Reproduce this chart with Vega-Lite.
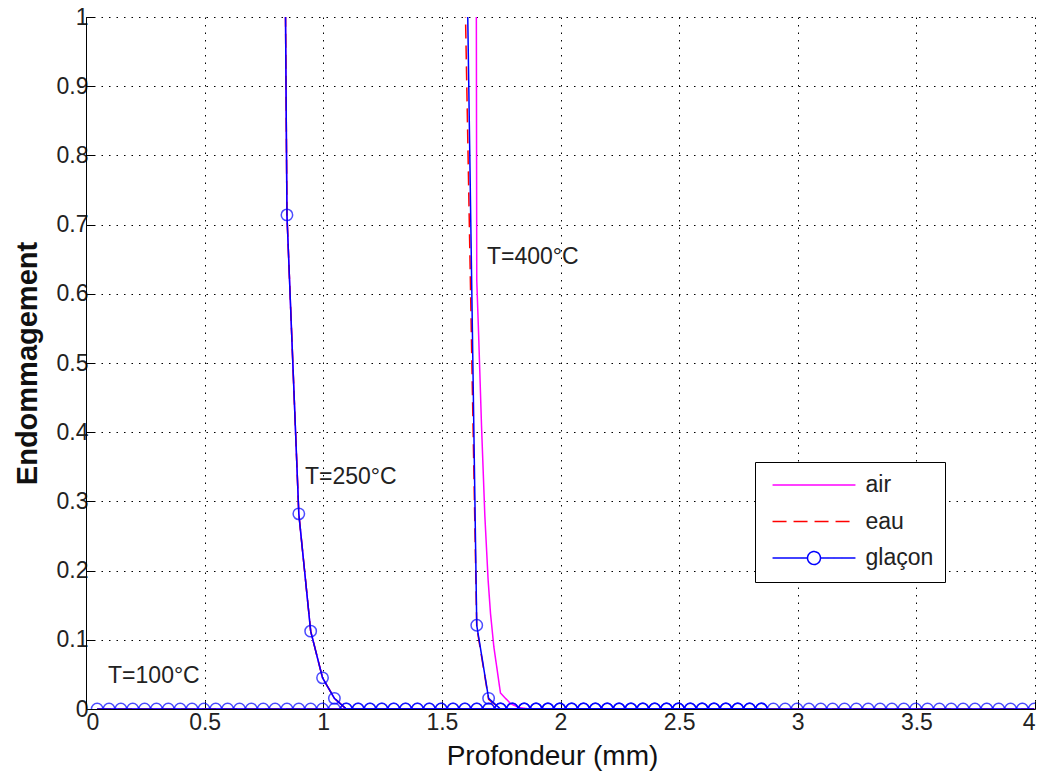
{
  "$schema": "https://vega.github.io/schema/vega-lite/v6.json",
  "autosize": {"type": "none"},
  "width": 949,
  "height": 692,
  "padding": {"left": 86, "top": 17, "right": 4, "bottom": 69},
  "background": "white",
  "config": {
    "view": {"stroke": null},
    "font": "Liberation Sans",
    "axis": {
      "domainColor": "black",
      "domainWidth": 1,
      "tickColor": "black",
      "tickSize": -8,
      "grid": true,
      "gridColor": "black",
      "gridDash": [1.5, 6],
      "gridWidth": 1,
      "labelFont": "Liberation Sans",
      "labelFontSize": 23,
      "labelColor": "#222",
      "titleFont": "Liberation Sans",
      "titleColor": "#111",
      "labelOverlap": false
    }
  },
  "datasets": {
    "curves": [
      {"serie": "air", "T": 100, "x": 0.047, "y": 0},
      {"serie": "air", "T": 100, "x": 3.997, "y": 0},
      {"serie": "air", "T": 250, "x": 0.797, "y": 3.1},
      {"serie": "air", "T": 250, "x": 0.847, "y": 0.714},
      {"serie": "air", "T": 250, "x": 0.897, "y": 0.282},
      {"serie": "air", "T": 250, "x": 0.947, "y": 0.1125},
      {"serie": "air", "T": 250, "x": 0.997, "y": 0.045},
      {"serie": "air", "T": 250, "x": 1.047, "y": 0.0154},
      {"serie": "air", "T": 250, "x": 1.097, "y": 0},
      {"serie": "air", "T": 250, "x": 2.847, "y": 0},
      {"serie": "air", "T": 400, "x": 1.644, "y": 1.3},
      {"serie": "air", "T": 400, "x": 1.647, "y": 0.62},
      {"serie": "air", "T": 400, "x": 1.655, "y": 0.54},
      {"serie": "air", "T": 400, "x": 1.667, "y": 0.41},
      {"serie": "air", "T": 400, "x": 1.681, "y": 0.28},
      {"serie": "air", "T": 400, "x": 1.695, "y": 0.186},
      {"serie": "air", "T": 400, "x": 1.705, "y": 0.138},
      {"serie": "air", "T": 400, "x": 1.719, "y": 0.09},
      {"serie": "air", "T": 400, "x": 1.747, "y": 0.023},
      {"serie": "air", "T": 400, "x": 1.789, "y": 0.008},
      {"serie": "air", "T": 400, "x": 1.824, "y": 0.002},
      {"serie": "air", "T": 400, "x": 1.87, "y": 0},
      {"serie": "air", "T": 400, "x": 2.847, "y": 0},
      {"serie": "eau", "T": 100, "x": 0.047, "y": 0},
      {"serie": "eau", "T": 100, "x": 3.997, "y": 0},
      {"serie": "eau", "T": 250, "x": 0.797, "y": 3.1},
      {"serie": "eau", "T": 250, "x": 0.847, "y": 0.714},
      {"serie": "eau", "T": 250, "x": 0.897, "y": 0.282},
      {"serie": "eau", "T": 250, "x": 0.947, "y": 0.1125},
      {"serie": "eau", "T": 250, "x": 0.997, "y": 0.045},
      {"serie": "eau", "T": 250, "x": 1.047, "y": 0.0154},
      {"serie": "eau", "T": 250, "x": 1.097, "y": 0},
      {"serie": "eau", "T": 250, "x": 2.847, "y": 0},
      {"serie": "eau", "T": 400, "x": 1.597, "y": 1.05},
      {"serie": "eau", "T": 400, "x": 1.647, "y": 0.118},
      {"serie": "eau", "T": 400, "x": 1.697, "y": 0.014},
      {"serie": "eau", "T": 400, "x": 1.747, "y": 0},
      {"serie": "eau", "T": 400, "x": 2.847, "y": 0},
      {"serie": "glaçon", "T": 100, "x": 0.047, "y": 0},
      {"serie": "glaçon", "T": 100, "x": 0.097, "y": 0},
      {"serie": "glaçon", "T": 100, "x": 0.147, "y": 0},
      {"serie": "glaçon", "T": 100, "x": 0.197, "y": 0},
      {"serie": "glaçon", "T": 100, "x": 0.247, "y": 0},
      {"serie": "glaçon", "T": 100, "x": 0.297, "y": 0},
      {"serie": "glaçon", "T": 100, "x": 0.347, "y": 0},
      {"serie": "glaçon", "T": 100, "x": 0.397, "y": 0},
      {"serie": "glaçon", "T": 100, "x": 0.447, "y": 0},
      {"serie": "glaçon", "T": 100, "x": 0.497, "y": 0},
      {"serie": "glaçon", "T": 100, "x": 0.547, "y": 0},
      {"serie": "glaçon", "T": 100, "x": 0.597, "y": 0},
      {"serie": "glaçon", "T": 100, "x": 0.647, "y": 0},
      {"serie": "glaçon", "T": 100, "x": 0.697, "y": 0},
      {"serie": "glaçon", "T": 100, "x": 0.747, "y": 0},
      {"serie": "glaçon", "T": 100, "x": 0.797, "y": 0},
      {"serie": "glaçon", "T": 100, "x": 0.847, "y": 0},
      {"serie": "glaçon", "T": 100, "x": 0.897, "y": 0},
      {"serie": "glaçon", "T": 100, "x": 0.947, "y": 0},
      {"serie": "glaçon", "T": 100, "x": 0.997, "y": 0},
      {"serie": "glaçon", "T": 100, "x": 1.047, "y": 0},
      {"serie": "glaçon", "T": 100, "x": 1.097, "y": 0},
      {"serie": "glaçon", "T": 100, "x": 1.147, "y": 0},
      {"serie": "glaçon", "T": 100, "x": 1.197, "y": 0},
      {"serie": "glaçon", "T": 100, "x": 1.247, "y": 0},
      {"serie": "glaçon", "T": 100, "x": 1.297, "y": 0},
      {"serie": "glaçon", "T": 100, "x": 1.347, "y": 0},
      {"serie": "glaçon", "T": 100, "x": 1.397, "y": 0},
      {"serie": "glaçon", "T": 100, "x": 1.447, "y": 0},
      {"serie": "glaçon", "T": 100, "x": 1.497, "y": 0},
      {"serie": "glaçon", "T": 100, "x": 1.547, "y": 0},
      {"serie": "glaçon", "T": 100, "x": 1.597, "y": 0},
      {"serie": "glaçon", "T": 100, "x": 1.647, "y": 0},
      {"serie": "glaçon", "T": 100, "x": 1.697, "y": 0},
      {"serie": "glaçon", "T": 100, "x": 1.747, "y": 0},
      {"serie": "glaçon", "T": 100, "x": 1.797, "y": 0},
      {"serie": "glaçon", "T": 100, "x": 1.847, "y": 0},
      {"serie": "glaçon", "T": 100, "x": 1.897, "y": 0},
      {"serie": "glaçon", "T": 100, "x": 1.947, "y": 0},
      {"serie": "glaçon", "T": 100, "x": 1.997, "y": 0},
      {"serie": "glaçon", "T": 100, "x": 2.047, "y": 0},
      {"serie": "glaçon", "T": 100, "x": 2.097, "y": 0},
      {"serie": "glaçon", "T": 100, "x": 2.147, "y": 0},
      {"serie": "glaçon", "T": 100, "x": 2.197, "y": 0},
      {"serie": "glaçon", "T": 100, "x": 2.247, "y": 0},
      {"serie": "glaçon", "T": 100, "x": 2.297, "y": 0},
      {"serie": "glaçon", "T": 100, "x": 2.347, "y": 0},
      {"serie": "glaçon", "T": 100, "x": 2.397, "y": 0},
      {"serie": "glaçon", "T": 100, "x": 2.447, "y": 0},
      {"serie": "glaçon", "T": 100, "x": 2.497, "y": 0},
      {"serie": "glaçon", "T": 100, "x": 2.547, "y": 0},
      {"serie": "glaçon", "T": 100, "x": 2.597, "y": 0},
      {"serie": "glaçon", "T": 100, "x": 2.647, "y": 0},
      {"serie": "glaçon", "T": 100, "x": 2.697, "y": 0},
      {"serie": "glaçon", "T": 100, "x": 2.747, "y": 0},
      {"serie": "glaçon", "T": 100, "x": 2.797, "y": 0},
      {"serie": "glaçon", "T": 100, "x": 2.847, "y": 0},
      {"serie": "glaçon", "T": 100, "x": 2.897, "y": 0},
      {"serie": "glaçon", "T": 100, "x": 2.947, "y": 0},
      {"serie": "glaçon", "T": 100, "x": 2.997, "y": 0},
      {"serie": "glaçon", "T": 100, "x": 3.047, "y": 0},
      {"serie": "glaçon", "T": 100, "x": 3.097, "y": 0},
      {"serie": "glaçon", "T": 100, "x": 3.147, "y": 0},
      {"serie": "glaçon", "T": 100, "x": 3.197, "y": 0},
      {"serie": "glaçon", "T": 100, "x": 3.247, "y": 0},
      {"serie": "glaçon", "T": 100, "x": 3.297, "y": 0},
      {"serie": "glaçon", "T": 100, "x": 3.347, "y": 0},
      {"serie": "glaçon", "T": 100, "x": 3.397, "y": 0},
      {"serie": "glaçon", "T": 100, "x": 3.447, "y": 0},
      {"serie": "glaçon", "T": 100, "x": 3.497, "y": 0},
      {"serie": "glaçon", "T": 100, "x": 3.547, "y": 0},
      {"serie": "glaçon", "T": 100, "x": 3.597, "y": 0},
      {"serie": "glaçon", "T": 100, "x": 3.647, "y": 0},
      {"serie": "glaçon", "T": 100, "x": 3.697, "y": 0},
      {"serie": "glaçon", "T": 100, "x": 3.747, "y": 0},
      {"serie": "glaçon", "T": 100, "x": 3.797, "y": 0},
      {"serie": "glaçon", "T": 100, "x": 3.847, "y": 0},
      {"serie": "glaçon", "T": 100, "x": 3.897, "y": 0},
      {"serie": "glaçon", "T": 100, "x": 3.947, "y": 0},
      {"serie": "glaçon", "T": 100, "x": 3.997, "y": 0},
      {"serie": "glaçon", "T": 250, "x": 0.797, "y": 3.1},
      {"serie": "glaçon", "T": 250, "x": 0.847, "y": 0.714},
      {"serie": "glaçon", "T": 250, "x": 0.897, "y": 0.282},
      {"serie": "glaçon", "T": 250, "x": 0.947, "y": 0.1125},
      {"serie": "glaçon", "T": 250, "x": 0.997, "y": 0.045},
      {"serie": "glaçon", "T": 250, "x": 1.047, "y": 0.0154},
      {"serie": "glaçon", "T": 250, "x": 1.097, "y": 0},
      {"serie": "glaçon", "T": 250, "x": 1.147, "y": 0},
      {"serie": "glaçon", "T": 250, "x": 1.197, "y": 0},
      {"serie": "glaçon", "T": 250, "x": 1.247, "y": 0},
      {"serie": "glaçon", "T": 250, "x": 1.297, "y": 0},
      {"serie": "glaçon", "T": 250, "x": 1.347, "y": 0},
      {"serie": "glaçon", "T": 250, "x": 1.397, "y": 0},
      {"serie": "glaçon", "T": 250, "x": 1.447, "y": 0},
      {"serie": "glaçon", "T": 250, "x": 1.497, "y": 0},
      {"serie": "glaçon", "T": 250, "x": 1.547, "y": 0},
      {"serie": "glaçon", "T": 250, "x": 1.597, "y": 0},
      {"serie": "glaçon", "T": 250, "x": 1.647, "y": 0},
      {"serie": "glaçon", "T": 250, "x": 1.697, "y": 0},
      {"serie": "glaçon", "T": 250, "x": 1.747, "y": 0},
      {"serie": "glaçon", "T": 250, "x": 1.797, "y": 0},
      {"serie": "glaçon", "T": 250, "x": 1.847, "y": 0},
      {"serie": "glaçon", "T": 250, "x": 1.897, "y": 0},
      {"serie": "glaçon", "T": 250, "x": 1.947, "y": 0},
      {"serie": "glaçon", "T": 250, "x": 1.997, "y": 0},
      {"serie": "glaçon", "T": 250, "x": 2.047, "y": 0},
      {"serie": "glaçon", "T": 250, "x": 2.097, "y": 0},
      {"serie": "glaçon", "T": 250, "x": 2.147, "y": 0},
      {"serie": "glaçon", "T": 250, "x": 2.197, "y": 0},
      {"serie": "glaçon", "T": 250, "x": 2.247, "y": 0},
      {"serie": "glaçon", "T": 250, "x": 2.297, "y": 0},
      {"serie": "glaçon", "T": 250, "x": 2.347, "y": 0},
      {"serie": "glaçon", "T": 250, "x": 2.397, "y": 0},
      {"serie": "glaçon", "T": 250, "x": 2.447, "y": 0},
      {"serie": "glaçon", "T": 250, "x": 2.497, "y": 0},
      {"serie": "glaçon", "T": 250, "x": 2.547, "y": 0},
      {"serie": "glaçon", "T": 250, "x": 2.597, "y": 0},
      {"serie": "glaçon", "T": 250, "x": 2.647, "y": 0},
      {"serie": "glaçon", "T": 250, "x": 2.697, "y": 0},
      {"serie": "glaçon", "T": 250, "x": 2.747, "y": 0},
      {"serie": "glaçon", "T": 250, "x": 2.797, "y": 0},
      {"serie": "glaçon", "T": 250, "x": 2.847, "y": 0},
      {"serie": "glaçon", "T": 400, "x": 1.597, "y": 1.28},
      {"serie": "glaçon", "T": 400, "x": 1.647, "y": 0.121},
      {"serie": "glaçon", "T": 400, "x": 1.697, "y": 0.0154},
      {"serie": "glaçon", "T": 400, "x": 1.747, "y": 0},
      {"serie": "glaçon", "T": 400, "x": 1.797, "y": 0},
      {"serie": "glaçon", "T": 400, "x": 1.847, "y": 0},
      {"serie": "glaçon", "T": 400, "x": 1.897, "y": 0},
      {"serie": "glaçon", "T": 400, "x": 1.947, "y": 0},
      {"serie": "glaçon", "T": 400, "x": 1.997, "y": 0},
      {"serie": "glaçon", "T": 400, "x": 2.047, "y": 0},
      {"serie": "glaçon", "T": 400, "x": 2.097, "y": 0},
      {"serie": "glaçon", "T": 400, "x": 2.147, "y": 0},
      {"serie": "glaçon", "T": 400, "x": 2.197, "y": 0},
      {"serie": "glaçon", "T": 400, "x": 2.247, "y": 0},
      {"serie": "glaçon", "T": 400, "x": 2.297, "y": 0},
      {"serie": "glaçon", "T": 400, "x": 2.347, "y": 0},
      {"serie": "glaçon", "T": 400, "x": 2.397, "y": 0},
      {"serie": "glaçon", "T": 400, "x": 2.447, "y": 0},
      {"serie": "glaçon", "T": 400, "x": 2.497, "y": 0},
      {"serie": "glaçon", "T": 400, "x": 2.547, "y": 0},
      {"serie": "glaçon", "T": 400, "x": 2.597, "y": 0},
      {"serie": "glaçon", "T": 400, "x": 2.647, "y": 0},
      {"serie": "glaçon", "T": 400, "x": 2.697, "y": 0},
      {"serie": "glaçon", "T": 400, "x": 2.747, "y": 0},
      {"serie": "glaçon", "T": 400, "x": 2.797, "y": 0},
      {"serie": "glaçon", "T": 400, "x": 2.847, "y": 0}
    ],
    "labels": [
      {"label": "T=100°C", "x": 0.093, "y": 0.048},
      {"label": "T=250°C", "x": 0.923, "y": 0.335},
      {"label": "T=400°C", "x": 1.69, "y": 0.653}
    ]
  },
  "layer": [
    {
      "data": {"name": "curves"},
      "mark": {"type": "line", "clip": true, "strokeWidth": 1.5},
      "encoding": {
        "x": {
          "field": "x", "type": "quantitative",
          "scale": {"domain": [0, 4], "nice": false, "zero": false},
          "axis": {
            "title": "Profondeur (mm)",
            "values": [0, 0.5, 1, 1.5, 2, 2.5, 3, 3.5, 4],
            "format": "~g",
            "labelPadding": 10,
            "titleFontSize": 28,
            "titleFontWeight": "normal",
            "titlePadding": 8,
            "titleX": 466
          }
        },
        "y": {
          "field": "y", "type": "quantitative",
          "scale": {"domain": [0, 1], "nice": false},
          "axis": {
            "title": "Endommagement",
            "values": [0, 0.1, 0.2, 0.3, 0.4, 0.5, 0.6, 0.7, 0.8, 0.9, 1],
            "format": "~g",
            "labelPadding": 6,
            "titleFontSize": 29,
            "titleFontWeight": "bold",
            "titlePadding": 14
          }
        },
        "detail": {"field": "T", "type": "nominal"},
        "color": {
          "field": "serie", "type": "nominal",
          "scale": {"domain": ["air", "eau", "glaçon"], "range": ["#ff00ff", "#ff0000", "#0000ff"]},
          "legend": {
            "title": null,
            "orient": "none",
            "legendX": 669,
            "legendY": 445,
            "fillColor": "white",
            "strokeColor": "black",
            "padding": 11.5,
            "rowPadding": 12.5,
            "symbolSize": 275,
            "symbolStrokeWidth": 1.5,
            "symbolOffset": 36,
            "labelOffset": 40,
            "labelFontSize": 23,
            "labelFont": "Liberation Sans",
            "labelColor": "#222",
            "labelExpr": "datum.label + '\u00a0\u00a0\u00a0\u00a0\u00a0\u00a0\u00a0\u00a0\u00a0\u00a0\u00a0\u00a0'",
            "encode": {
              "symbols": {
                "update": {
                  "shape": {"signal": "datum.value === 'glaçon' ? 'M-5,0H-0.78M0.78,0H5M-0.78,0A0.78,0.78,0,1,0,0.78,0A0.78,0.78,0,1,0,-0.78,0' : 'M-5,0H5'"},
                  "strokeDash": {"signal": "datum.value === 'eau' ? [14, 7] : [1, 0]"},
                  "fill": {"value": "transparent"}
                }
              }
            }
          }
        },
        "strokeDash": {
          "field": "serie", "type": "nominal",
          "scale": {"domain": ["air", "eau", "glaçon"], "range": [[1, 0], [14, 7], [1, 0]]},
          "legend": null
        }
      }
    },
    {
      "data": {"name": "curves"},
      "transform": [{"filter": "datum.serie === 'glaçon'"}],
      "mark": {"type": "point", "shape": "circle", "filled": false, "clip": true, "size": 130, "strokeWidth": 1.5, "color": "#0000ff"},
      "encoding": {
        "x": {"field": "x", "type": "quantitative"},
        "y": {"field": "y", "type": "quantitative"}
      }
    },
    {
      "data": {"name": "labels"},
      "mark": {"type": "text", "align": "left", "baseline": "middle", "fontSize": 23, "font": "Liberation Sans", "color": "#222"},
      "encoding": {
        "x": {"field": "x", "type": "quantitative"},
        "y": {"field": "y", "type": "quantitative"},
        "text": {"field": "label"}
      }
    }
  ]
}
